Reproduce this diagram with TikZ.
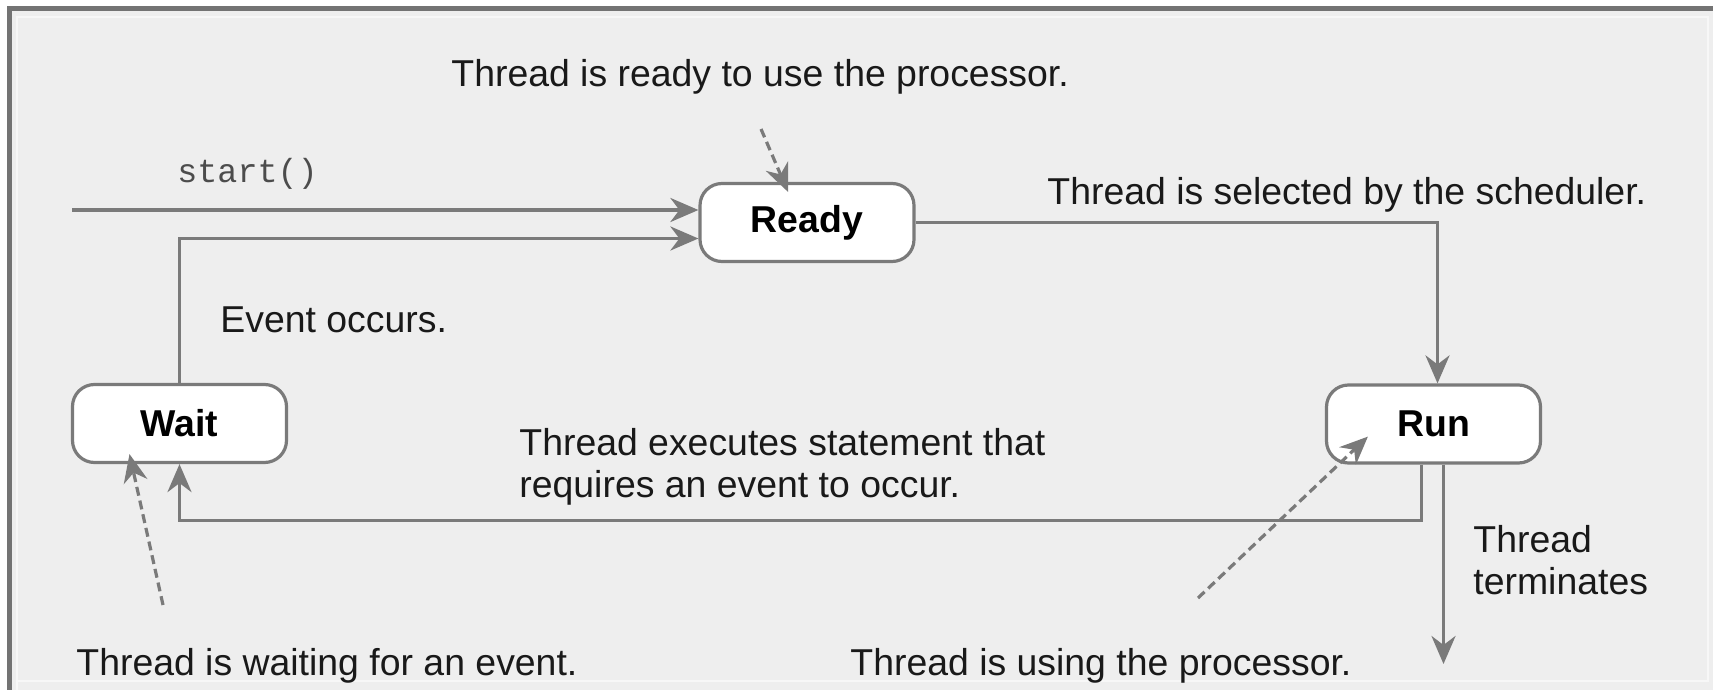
\documentclass[tikz,border=0pt]{standalone}
\usepackage{fontspec}
\setmainfont{Liberation Sans}
\setmonofont{Liberation Mono}
\usetikzlibrary{arrows.meta}

\definecolor{linegray}{HTML}{7A7A7A}
\definecolor{panel}{HTML}{EEEEEE}

\begin{document}
\begin{tikzpicture}[x=0.5pt,y=-0.5pt,
    >={Stealth[length=14pt,width=12pt,inset=4.5pt]},
    state/.style={draw=linegray,line width=1.6pt,fill=white,rounded corners=11pt,
      minimum width=107pt,minimum height=39pt,font=\fontsize{18.7}{21}\selectfont\bfseries},
    flow/.style={->,draw=linegray,line width=1.8pt},
    hint/.style={->,draw=linegray,line width=1.6pt,dash pattern=on 4.5pt off 2.5pt},
    note/.style={font=\fontsize{18.7}{21}\selectfont,align=left,inner sep=0pt,text=black!90}]
    \useasboundingbox (0,0) rectangle (1713,690);
    % frame
    \fill[white] (0,0) rectangle (1713,690);
    \fill[panel] (7,7) rectangle (1713,690);
    \draw[white!55!panel,line width=0.8pt] (17,690) -- (17,17) -- (1708,17) -- (1708,681) -- (17,681);
    \draw[black!55,line width=2.5pt] (9,690) -- (9,9) -- (1713,9);

    \node[state] (ready) at (807,222.5) {Ready};
    \node[state] (wait)  at (179.5,423.5) {Wait};
    \node[state] (run)   at (1433.5,424) {Run};

    \node[note,anchor=base west] (readynote) at (451,87) {Thread is ready to use the processor.};
    \node[note,anchor=base west] (selnote) at (1047,204) {Thread is selected by the scheduler.};
    \node[note,anchor=base west] (eventnote) at (220,332) {Event occurs.};
    \node[note,anchor=west] (execnote) at (519,467) {Thread executes statement that\\requires an event to occur.};
    \node[note,anchor=west] (termnote) at (1473,560) {Thread\\terminates};
    \node[note,anchor=base west] (waitnote) at (76,675) {Thread is waiting for an event.};
    \node[note,anchor=base west] (usenote) at (850,675) {Thread is using the processor.};
    \node[font=\fontsize{16.7}{20}\selectfont\ttfamily,text=black!70,anchor=base west,inner sep=0pt]
      (startlabel) at (177,183) {start()};

    \coordinate (entry) at (72,210);
    \coordinate (exit) at (1443.5,664);
    \coordinate (readyhint) at (761,129);
    \coordinate (waithint) at (163,605);
    \coordinate (runhint) at (1198,598);

    \draw[flow] (entry) -- (entry -| ready.west);
    \draw[flow] (wait.north) |- ([yshift=-8pt]ready.west);
    \draw[flow] (ready.east) -| ([xshift=2pt]run.north);
    \draw[flow] ([xshift=-6pt]run.south) -- ++(0,56) -| (wait.south);
    \draw[flow] ([xshift=5pt]run.south) -- (exit);

    \draw[hint] (readyhint) -- ([xshift=-9.5pt,yshift=-5pt]ready.north);
    \draw[hint] (waithint) -- ([xshift=-25pt,yshift=5pt]wait.south);
    \draw[hint] (runhint) -- ([xshift=21.5pt,yshift=14pt]run.south west);
\end{tikzpicture}
\end{document}
